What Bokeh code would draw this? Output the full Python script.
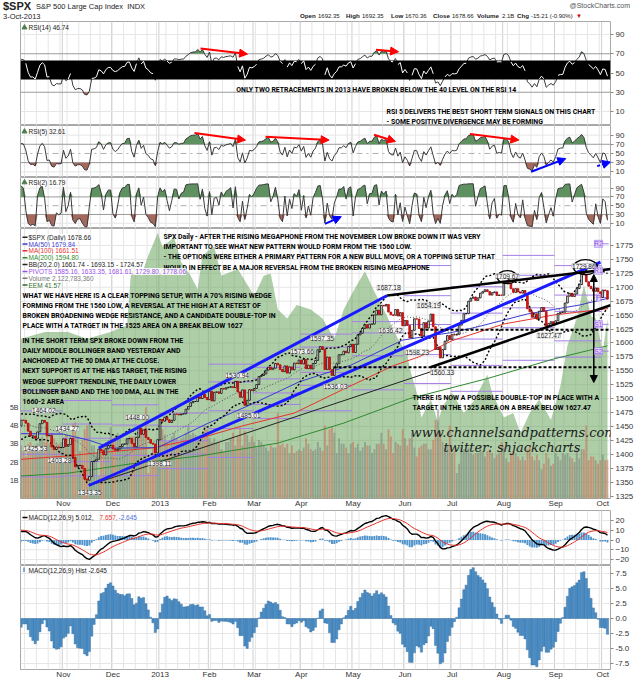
import numpy as np
import pandas as pd
from bokeh.plotting import figure
from bokeh.layouts import column
from bokeh.models import Range1d, LinearAxis, FixedTicker, Label, Arrow, NormalHead, Span, Div
from bokeh.core.properties import value
from bokeh.embed import file_html
from bokeh.resources import INLINE

# ------------------------------------------------------------------ data
# $SPX daily closes Aug-Sep 2012 + Oct 1-3 2012 (indicator warm-up only, not drawn)
warmup_closes = [1375.14, 1365.00, 1390.99, 1394.23, 1401.35, 1402.22, 1402.80, 1405.87,
                 1404.11, 1403.93, 1405.53, 1415.51, 1418.16, 1418.13, 1413.17, 1413.49,
                 1402.08, 1411.13, 1410.44, 1409.30, 1410.49, 1399.48, 1406.58,
                 1404.94, 1403.44, 1432.12, 1437.92, 1429.08, 1433.56, 1436.56, 1459.99,
                 1465.77, 1461.19, 1459.32, 1461.05, 1460.26, 1460.15, 1456.89, 1441.59,
                 1433.32, 1447.15, 1440.67, 1444.49, 1445.75, 1450.99]

closes = (
    # Oct 2012
    [1461.40, 1460.93, 1455.88, 1441.48, 1432.56, 1432.84, 1428.59, 1440.13, 1454.92, 1460.91,
     1457.34, 1433.19, 1433.82, 1413.11, 1408.75, 1412.97, 1411.94, 1412.16] +
    # Nov
    [1427.59, 1414.20, 1417.26, 1428.39, 1394.53, 1377.51, 1379.85, 1380.03, 1374.53, 1355.49,
     1353.33, 1359.88, 1386.89, 1387.81, 1391.03, 1409.15, 1406.29, 1398.94, 1409.93, 1415.95, 1416.18] +
    # Dec
    [1409.46, 1407.05, 1409.28, 1413.94, 1418.07, 1418.55, 1427.84, 1428.48, 1419.45, 1413.58,
     1430.36, 1446.79, 1435.81, 1443.69, 1430.15, 1426.66, 1419.83, 1418.10, 1402.43, 1426.19] +
    # Jan 2013
    [1462.42, 1459.37, 1466.47, 1461.89, 1457.15, 1461.02, 1472.12, 1472.05, 1470.68, 1472.34,
     1472.63, 1480.94, 1485.98, 1492.56, 1494.81, 1494.82, 1502.96, 1500.18, 1507.84, 1501.96, 1498.11] +
    # Feb
    [1513.17, 1495.71, 1511.29, 1512.12, 1509.39, 1517.93, 1517.01, 1519.43, 1520.33, 1521.38,
     1519.79, 1530.94, 1511.95, 1502.42, 1515.60, 1487.85, 1496.94, 1515.99, 1514.68] +
    # Mar
    [1518.20, 1525.20, 1539.79, 1541.46, 1544.26, 1551.18, 1556.22, 1552.48, 1554.52, 1563.23,
     1560.70, 1552.10, 1548.34, 1558.71, 1545.80, 1556.89, 1551.69, 1563.77, 1562.85, 1569.19] +
    # Apr
    [1562.17, 1570.25, 1553.69, 1559.98, 1553.28, 1563.07, 1568.61, 1587.73, 1593.37, 1588.85,
     1552.36, 1574.57, 1552.01, 1541.61, 1555.25, 1562.50, 1578.78, 1578.79, 1585.16, 1582.24,
     1593.61, 1597.57] +
    # May
    [1582.70, 1597.59, 1614.42, 1617.50, 1625.96, 1632.69, 1626.67, 1633.70, 1633.77, 1650.34,
     1658.78, 1650.47, 1667.47, 1666.29, 1669.16, 1655.35, 1650.51, 1649.60, 1660.06, 1648.36,
     1654.41, 1630.74] +
    # Jun
    [1640.42, 1631.38, 1608.90, 1622.56, 1643.38, 1642.81, 1626.13, 1612.52, 1636.36, 1626.73,
     1639.04, 1651.81, 1628.93, 1588.19, 1592.43, 1573.09, 1588.03, 1603.26, 1613.20, 1606.28] +
    # Jul
    [1614.96, 1614.08, 1615.41, 1631.89, 1640.46, 1652.32, 1652.62, 1675.02, 1680.19, 1682.50,
     1676.26, 1680.91, 1689.37, 1692.09, 1695.53, 1692.39, 1685.94, 1690.25, 1691.65, 1685.33,
     1685.96, 1685.73] +
    # Aug
    [1706.87, 1709.67, 1707.14, 1697.37, 1690.91, 1697.48, 1691.42, 1689.47, 1694.16, 1685.39,
     1661.32, 1655.83, 1646.06, 1652.35, 1642.80, 1656.96, 1663.50, 1656.78, 1630.48, 1634.96,
     1638.17, 1632.97] +
    # Sep
    [1639.77, 1653.08, 1655.08, 1655.17, 1671.71, 1683.99, 1689.13, 1683.42, 1687.99, 1697.60,
     1704.76, 1725.52, 1722.34, 1709.91, 1701.84, 1697.42, 1692.77, 1698.67, 1691.75, 1681.55] +
    # Oct 1-3 2013
    [1695.00, 1693.87, 1678.66]
)

volumes_b = (
    [2.9, 2.6, 2.3, 3.0, 3.1, 2.8, 2.9, 3.0, 3.3, 3.4, 3.1, 3.9, 3.0, 3.6, 3.3, 3.1, 3.0, 3.1] +
    [3.3, 3.5, 2.8, 2.9, 4.1, 4.2, 3.4, 2.6, 3.2, 3.8, 4.0, 4.1, 2.9, 2.9, 2.5, 1.2, 2.7, 3.0, 3.1, 3.2, 3.9] +
    [3.3, 3.4, 3.6, 3.3, 3.0, 2.8, 3.3, 3.4, 3.4, 3.4, 3.4, 3.7, 3.5, 3.6, 5.0, 1.4, 2.0, 2.8, 3.0, 3.1] +
    [4.3, 3.8, 3.5, 3.1, 3.1, 3.4, 3.6, 3.3, 3.1, 3.3, 3.4, 3.6, 4.0, 3.5, 3.6, 3.5, 3.4, 3.2, 3.4, 3.9, 3.8] +
    [3.3, 3.1, 3.3, 3.1, 3.1, 2.7, 2.6, 3.1, 3.1, 3.3, 3.6, 2.9, 3.4, 3.9, 2.9, 3.7, 3.5, 3.1, 3.4] +
    [3.1, 2.8, 3.2, 3.1, 2.9, 2.8, 2.6, 2.9, 2.8, 2.8, 4.7, 2.9, 3.0, 2.8, 3.0, 2.5, 2.9, 2.5, 2.6, 2.7] +
    [2.6, 2.8, 3.3, 3.0, 2.7, 2.6, 2.7, 3.1, 2.8, 2.6, 4.0, 2.9, 3.8, 3.9, 3.6, 2.5, 3.3, 3.0, 3.0, 2.8, 2.5, 3.0] +
    [3.1, 2.8, 3.0, 2.6, 2.8, 3.1, 2.9, 2.9, 2.5, 2.7, 3.0, 3.0, 3.6, 3.0, 2.7, 3.8, 3.4, 2.5, 3.1, 3.0, 2.9, 3.8] +
    [3.3, 2.9, 3.3, 3.6, 2.8, 2.3, 2.8, 2.9, 3.0, 3.0, 2.7, 2.7, 3.2, 4.3, 4.9, 3.7, 3.1, 2.8, 2.9, 4.0] +
    [2.5, 2.6, 1.4, 1.9, 2.8, 2.7, 2.7, 2.8, 2.5, 2.4, 2.5, 2.5, 2.9, 2.6, 2.3, 2.6, 2.7, 2.5, 2.2, 2.4, 2.5, 3.1] +
    [2.8, 2.2, 2.0, 2.5, 2.6, 2.5, 2.3, 2.1, 2.3, 2.1, 2.7, 2.9, 2.3, 2.1, 2.4, 2.1, 1.6, 1.9, 2.5, 2.2, 1.8, 1.9] +
    [2.5, 2.3, 2.1, 2.5, 2.4, 2.5, 2.3, 2.2, 2.0, 2.7, 2.2, 2.7, 2.7, 4.0, 2.1, 2.3, 2.3, 2.1, 1.9, 2.1] +
    [2.4, 2.1, 2.12]
)

holidays = ["2012-10-29", "2012-10-30", "2012-11-22", "2012-12-25", "2013-01-01", "2013-01-21",
            "2013-02-18", "2013-03-29", "2013-05-27", "2013-07-04", "2013-09-02"]
month_labels = ["Nov", "Dec", "2013", "Feb", "Mar", "Apr", "May", "Jun", "Jul", "Aug", "Sep", "Oct"]

# prior-month high / low / close (Sep 2012 .. Sep 2013) for the monthly pivots
piv_high = [1474.51, 1470.96, 1434.27, 1448.00, 1509.94, 1530.94, 1570.28, 1597.35, 1687.18, 1654.19, 1698.78, 1709.67, 1729.86]
piv_low = [1396.56, 1403.28, 1343.35, 1398.11, 1426.19, 1485.01, 1501.48, 1536.03, 1581.28, 1560.33, 1604.57, 1627.47, 1633.41]
piv_close = [1440.67, 1412.16, 1416.18, 1426.19, 1498.11, 1514.68, 1569.19, 1597.57, 1630.74, 1606.28, 1685.73, 1632.97, 1681.55]

# EEM overlay (area) at bar positions
eem_idx = [0, 10, 20, 28, 38, 45, 47, 51, 54, 58, 60, 65, 68, 72, 75, 77, 82, 85, 92, 99,
           103, 106, 109, 113, 117, 123, 128, 133, 137, 141, 146, 150, 154, 160, 164, 165, 168, 170, 174, 177,
           179, 183, 188, 192, 198, 200, 205, 209, 212, 216, 220, 225, 229, 232, 236, 239, 242, 244, 247, 249]
eem_val = [40.7, 41.0, 41.0, 40.7, 41.0, 41.3, 44.1, 43.5, 44.4, 45.4, 44.8, 45.2, 44.1, 43.5, 42.9, 44.4, 44.8, 43.5, 43.8, 42.6,
           43.5, 43.6, 42.0, 41.6, 42.2, 42.0, 41.6, 40.7, 42.0, 42.8, 43.7, 42.8, 42.0, 40.7, 40.0, 39.4, 38.3, 37.2, 38.0, 37.0,
           37.7, 38.3, 37.4, 37.9, 39.1, 38.3, 37.2, 37.4, 36.5, 37.4, 38.0, 37.1, 38.6, 40.4, 41.6, 43.1, 41.7, 41.6, 40.1, 41.6]

# moving averages
ma50_idx = [0, 18, 29, 39, 58, 79, 98, 118, 140, 162, 172, 182, 193, 204, 215, 226, 237, 249]
ma50_val = [1437, 1436, 1425, 1411, 1412, 1455, 1490, 1530, 1560, 1605, 1612, 1618, 1628, 1640, 1652, 1660, 1668, 1679.84]
ma100_idx = [0, 20, 31, 55, 76, 94, 116, 137, 158, 169, 183, 205, 226, 249]
ma100_val = [1391, 1397, 1402, 1411, 1429, 1451, 1474, 1517, 1559, 1575, 1604, 1634, 1650, 1661.51]
ma200_idx = [0, 20, 47, 76, 109, 137, 165, 198, 226, 249]
ma200_val = [1361, 1366, 1383, 1397, 1420, 1456, 1500, 1536, 1571, 1594.80]

price_labels = ["1464.02", "1434.27", "1425.53", "1403.28", "1343.35", "1448.00", "1398.11", "1530.94",
                "1485.01", "1573.66", "1597.35", "1536.03", "1687.18", "1636.42", "1598.23", "1654.19",
                "1560.33", "1709.67", "1627.47", "1729.86"]

# ------------------------------------------------------------------ layout helpers
FONT_TXT = "Roboto"
TXT_SIZE = "6.9px"
FONT_AX = "Liberation Sans"
LEG_SIZE = "6.5px"
FW = 590                      # frame spans page x 20 .. 610
X0 = -0.25
X1 = X0 + FW / 2.355


def X(px):
    return X0 + (px - 20.0) * (X1 - X0) / FW


def P(py):
    return 1775 - (py - 245.0) / 0.5567


def R14(py):
    return 90 - (py - 34.0) / 0.9625


def R5(py):
    return 90 - (py - 134.6) / 0.459


def R2(py):
    return 90 - (py - 187.9) / 0.449


def M(py):
    return -(py - 537.5) / 0.975


def Hh(py):
    return -(py - 616.0) / 6.0


days = pd.bdate_range("2012-10-04", "2013-10-03")
days = days[~days.isin(pd.to_datetime(holidays))]
N = len(days)
idx = np.arange(N)
month_start = [i for i in range(1, N) if days[i].month != days[i - 1].month]
week_start = [i for i in range(1, N) if days[i].weekday() < days[i - 1].weekday()]

c = np.array(closes)
allc = np.array(warmup_closes + closes)
W = len(warmup_closes)
opens = np.r_[warmup_closes[-1], c[:-1]]
up = c >= opens


def rsi(series, n):
    d = np.diff(series)
    g = np.clip(d, 0, None)
    l = np.clip(-d, 0, None)
    out = np.full(len(series), np.nan)
    ag = g[:n].mean()
    al = l[:n].mean()
    out[n] = 100 - 100 / (1 + ag / al) if al > 0 else 100
    for i in range(n + 1, len(series)):
        ag = (ag * (n - 1) + g[i - 1]) / n
        al = (al * (n - 1) + l[i - 1]) / n
        out[i] = 100 - 100 / (1 + ag / al) if al > 0 else 100.0
    return out


def ema(x, n):
    a = 2.0 / (n + 1)
    out = np.empty(len(x))
    out[0] = x[0]
    for i in range(1, len(x)):
        out[i] = a * x[i] + (1 - a) * out[i - 1]
    return out


rsi14 = rsi(allc, 14)[W:]
rsi5 = rsi(allc, 5)[W:]
rsi2 = rsi(allc, 2)[W:]
macd_all = ema(allc, 12) - ema(allc, 26)
sig_all = ema(macd_all, 9)
macd = macd_all[W:]
sig = sig_all[W:]
hist = macd - sig
bb_mid = np.array([allc[i - 19:i + 1].mean() for i in range(W, W + N)])
bb_sd = np.array([allc[i - 19:i + 1].std() for i in range(W, W + N)])
bb_up = bb_mid + 2 * bb_sd
bb_lo = bb_mid - 2 * bb_sd

GRID = "#e6e6e6"
GRIDM = "#cfcfcf"


def panel(fh, yr, bottom=0):
    p = figure(frame_width=FW, frame_height=fh, x_range=Range1d(X0, X1), y_range=Range1d(yr[0], yr[1]),
               x_axis_type=None, y_axis_type=None, min_border_left=20, min_border_right=30,
               min_border_top=0, min_border_bottom=bottom, toolbar_location=None, output_backend="svg")
    p.outline_line_color = "#a8a8a8"
    p.background_fill_color = "white"
    p.border_fill_color = "white"
    for w in week_start:
        p.add_layout(Span(location=w - 0.5, dimension="height", line_color=GRID, line_width=1, level="underlay"))
    for m in month_start:
        p.add_layout(Span(location=m - 0.5, dimension="height", line_color=GRIDM, line_width=1, level="underlay"))
    return p


def hgrid(p, ys, color=GRID, dash="solid"):
    for y in ys:
        p.add_layout(Span(location=y, dimension="width", line_color=color, line_width=1,
                          line_dash=dash, level="underlay"))


def right_axis(p, ticks, overrides=None):
    ax = LinearAxis(ticker=FixedTicker(ticks=ticks))
    ax.axis_line_color = None
    ax.major_tick_line_color = "#8a8a8a"
    ax.major_tick_out = 3
    ax.major_tick_in = 0
    ax.minor_tick_line_color = None
    ax.minor_tick_out = 0
    ax.minor_tick_in = 0
    ax.major_label_standoff = 2
    ax.major_label_text_font = FONT_AX
    ax.major_label_text_font_size = "8px"
    ax.major_label_text_color = "#333333"
    if overrides:
        ax.major_label_overrides = overrides
    p.add_layout(ax, "right")


def month_axis(p):
    ax = LinearAxis(ticker=FixedTicker(ticks=month_start),
                    major_label_overrides={int(m): lab for m, lab in zip(month_start, month_labels)})
    ax.axis_line_color = None
    ax.major_tick_line_color = None
    ax.major_tick_out = 0
    ax.major_tick_in = 0
    ax.minor_tick_line_color = None
    ax.minor_tick_out = 0
    ax.minor_tick_in = 0
    ax.major_label_standoff = 0
    ax.major_label_text_font = FONT_AX
    ax.major_label_text_font_size = "8px"
    ax.major_label_text_color = "#333333"
    p.add_layout(ax, "below")


def T(p, x, y, s, size=TXT_SIZE, font=FONT_TXT, style="bold", color="black", align="left"):
    p.text(x=[x], y=[y], text=[s], text_font=value(font), text_font_size=size, text_font_style=style,
           text_color=color, text_align=align, text_baseline="middle")


def legend(p, x, y, s, color, size=LEG_SIZE, bg=None, style="normal", align="left"):
    lab = Label(x=x, y=y, text=s, text_font=FONT_AX, text_font_size=size, text_color=color,
                text_font_style=style, text_baseline="middle", text_align=align)
    if bg:
        lab.background_fill_color = bg
        lab.background_fill_alpha = 0.85
    p.add_layout(lab)


def arrow(p, x0, y0, x1, y1, color, dash="solid", both=False, width=2, size=8):
    a = Arrow(x_start=x0, y_start=y0, x_end=x1, y_end=y1, line_color=color, line_width=width, line_dash=dash,
              end=NormalHead(size=size, fill_color=color, line_color=color),
              start=NormalHead(size=size, fill_color=color, line_color=color) if both else None)
    p.add_layout(a)


GREEN_FILL = "#5f9160"
RED_FILL = "#a4685c"

# ------------------------------------------------------------------ header (HTML strip, page y 0..21)
hdr_items = [("Open", 300, True), ("1692.35", 318, False), ("High", 346, True), ("1692.35", 362, False),
             ("Low", 391, True), ("1670.36", 405, False), ("Close", 433, True), ("1678.66", 452, False),
             ("Volume", 477, True), ("2.1B", 502, False), ("Chg", 517, True), ("-15.21 (-0.90%)", 531, False)]
spans = ['<span style="position:absolute;left:3px;top:1px;font-size:11px;font-weight:bold;">$SPX</span>',
         '<span style="position:absolute;left:36px;top:3px;font-size:7.5px;">S&amp;P 500 Large Cap Index &nbsp;INDX</span>',
         '<span style="position:absolute;right:10px;top:2px;font-size:7px;color:#555;">@StockCharts.com</span>',
         '<span style="position:absolute;left:3px;top:13px;font-size:7.5px;">3-Oct-2013</span>']
for s, x, b in hdr_items:
    spans.append('<span style="position:absolute;left:%dpx;top:13px;font-size:%s;%s">%s</span>'
                 % (x, "6.2px" if b else "6px", "font-weight:bold;" if b else "", s))
spans.append('<span style="position:absolute;left:576px;top:13px;font-size:6px;color:#cc0000;">&#9660;</span>')
hdr = Div(text='<div style="position:relative;width:640px;height:21px;overflow:hidden;line-height:1;'
               'font-family:\'Liberation Sans\',Arial,sans-serif;color:#222;white-space:nowrap;">'
               + "".join(spans) + "</div>",
          width=640, height=21, margin=(0, 0, 0, 0))

# ------------------------------------------------------------------ RSI panels


def rsi_panel(fh, yr, vals):
    p = panel(fh, yr)
    hgrid(p, [10, 90])
    hgrid(p, [30, 70], color="#9a9a9a")
    hgrid(p, [50], color="#b0b0b0", dash="dashdot")
    p.varea(x=idx, y1=np.full(N, 70.0), y2=np.maximum(vals, 70), fill_color=GREEN_FILL)
    p.varea(x=idx, y1=np.minimum(vals, 30), y2=np.full(N, 30.0), fill_color=RED_FILL)
    p.line(idx, vals, line_color="#3a3a3a", line_width=1)
    right_axis(p, [10, 30, 50, 70, 90])
    return p


p14 = rsi_panel(104, (R14(125), R14(21)), rsi14)
band_lo, band_hi = R14(79), R14(60)
p14.quad(left=[X0], right=[X1], bottom=[band_lo], top=[band_hi], fill_color="black", line_color=None)
in_band = np.where((rsi14 >= band_lo) & (rsi14 <= band_hi), rsi14, np.nan)
p14.line(idx, in_band, line_color="white", line_width=1)
p14.scatter([X(24)], [R14(27)], marker="triangle", size=5, fill_color="#4d7f4d", line_color="#4d7f4d")
legend(p14, X(28), R14(27), "RSI(14) 46.74", "#222222")
T(p14, X(376), R14(89), "ONLY TWO RETRACEMENTS IN 2013 HAVE BROKEN BELOW THE 40 LEVEL ON THE RSI 14", align="center")
T(p14, X(386), R14(111.5), "RSI 5 DELIVERS THE BEST SHORT TERM SIGNALS ON THIS CHART")
T(p14, X(386), R14(121), "- SOME POSITIVE DIVERGENCE MAY BE FORMING")
arrow(p14, X(200), R14(48), X(247), R14(53.6), "red")
arrow(p14, X(375.5), R14(49.2), X(398), R14(51.3), "red")

p5 = rsi_panel(52, (R5(177), R5(125)), rsi5)
p5.scatter([X(24)], [R5(131)], marker="triangle", size=5, fill_color="#4d7f4d", line_color="#4d7f4d")
legend(p5, X(28), R5(131), "RSI(5) 32.61", "#222222")
arrow(p5, X(194), R5(132.6), X(245), R5(139.6), "red")
arrow(p5, X(265), R5(136.3), X(328.6), R5(139.6), "red")
arrow(p5, X(373.5), R5(134.2), X(395), R5(141), "red")
arrow(p5, X(469.4), R5(133.6), X(518.4), R5(139.6), "red")
arrow(p5, X(530.6), R5(171.3), X(565.3), R5(158.1), "blue")
arrow(p5, X(596.7), R5(165.6), X(610), R5(161.5), "blue", dash="3 2")

p2 = rsi_panel(51, (-2.0, R2(177)), rsi2)
p2.scatter([X(24)], [R2(182)], marker="triangle", size=5, fill_color="#4d7f4d", line_color="#4d7f4d")
legend(p2, X(28), R2(182), "RSI(2) 16.79", "#222222")
arrow(p2, X(324.5), R2(224.5), X(340.8), R2(217.1), "blue")

# ------------------------------------------------------------------ main price panel
pm = panel(270, (P(498), P(228)), bottom=10)
pm.extra_y_ranges = {"vol": Range1d(0, 14.8), "eem": Range1d(33.6, 45.6)}
hgrid(pm, list(range(1325, 1800, 25)))
pm.varea(x=eem_idx, y1=np.full(len(eem_idx), 33.6), y2=eem_val, y_range_name="eem",
         fill_color="#5e9e52", fill_alpha=0.5)
vcol = np.where(up, "#6e6e6e", "#d9503c")
pm.vbar(x=idx, top=volumes_b, bottom=0, width=0.78, y_range_name="vol", fill_color=vcol,
        fill_alpha=0.45, line_color=None)

# monthly pivots
starts = [0] + month_start
ends = month_start + [N]
ph_, pl_, pc_ = np.array(piv_high), np.array(piv_low), np.array(piv_close)
pp = (ph_ + pl_ + pc_) / 3
levels = [pp - (ph_ - pl_), 2 * pp - ph_, pp, 2 * pp - pl_, pp + (ph_ - pl_)]
x0s, x1s, ys = [], [], []
for m in range(len(starts)):
    for lv in levels:
        x0s.append(starts[m] - 0.5)
        x1s.append(ends[m] - 0.5)
        ys.append(lv[m])
pm.segment(x0=x0s, y0=ys, x1=x1s, y1=ys, line_color="#a47fe8", line_width=1)

pm.line(ma200_idx, ma200_val, line_color="#2f8a2f", line_width=1)
pm.line(ma100_idx, ma100_val, line_color="#e8312b", line_width=1)
pm.line(ma50_idx, ma50_val, line_color="#3b3bd1", line_width=1)
pm.line(idx, bb_up, line_color="black", line_width=1.4, line_dash="2 2")
pm.line(idx, bb_lo, line_color="black", line_width=1.4, line_dash="2 2")
pm.line(idx, bb_mid, line_color="#555555", line_width=1, line_dash="1 2")

# thin trendline Nov low -> Jun low
pm.line([X(88.3), X(437)], [P(485), P(369)], line_color="#222222", line_width=1)

# candles
body_top = np.maximum(opens, c)
body_bot = np.minimum(opens, c)
pm.vbar(x=idx[up], top=body_top[up], bottom=body_bot[up], width=0.7, fill_color="white",
        line_color="black", line_width=0.8)
pm.vbar(x=idx[~up], top=body_top[~up], bottom=body_bot[~up], width=0.7, fill_color="#e21b1b",
        line_color="#b00000", line_width=0.8)

# hand-drawn trendlines
pm.line([X(98.3), X(386.7)], [P(447.7), P(295)], line_color="#1a1aff", line_width=3)
pm.line([X(88.3), X(600)], [P(485), P(261.7)], line_color="#1a1aff", line_width=3)
pm.line([X(386.7), X(610)], [P(295), P(268.6)], line_color="black", line_width=2.5)
pm.line([X(430), X(610)], [P(366.7), P(304.7)], line_color="black", line_width=2.5)
pm.line([X(420), X(610)], [P(329.3), P(329.3)], line_color="black", line_width=2, line_dash="3 2")
pm.line([X(333), X(610)], [P(366.7), P(366.7)], line_color="black", line_width=2, line_dash="3 2")
pm.ellipse(x=[X(506.7), X(585)], y=[P(276.7), P(266.7)], width=[20 * (X1 - X0) / FW, 24 * (X1 - X0) / FW],
           height=[13 / 0.5567, 15 / 0.5567], fill_color=None, line_color="black", line_width=1.3)
arrow(pm, X(593.3), P(274), X(593.3), P(382), "black", both=True, width=1.5, size=7)

# price labels
lab_xy = [(43.3, 410), (66.7, 428.3), (35, 448.3), (59, 460), (89.3, 492.3), (136.7, 416.7), (159.3, 463.3),
          (236.7, 375), (248.3, 415), (301.7, 351), (321.7, 337.7), (335, 386), (388.3, 287.3), (390, 330),
          (416.7, 351.7), (428.3, 305), (441.7, 371.7), (506.7, 275.5), (548.3, 335), (583.3, 265.5)]
for (lx, ly), s in zip(lab_xy, price_labels):
    pm.add_layout(Label(x=X(lx), y=P(ly), text=s, text_font=FONT_AX, text_font_size="6.5px",
                        text_color="#222222", text_align="center", text_baseline="middle",
                        background_fill_color="white", background_fill_alpha=0.9,
                        border_line_color="#9a9a9a", border_line_width=0.5))

# pivot tags
for tag, lv in zip(["S2", "S1", "P", "R1", "R2"], levels):
    pm.add_layout(Label(x=X(598), y=lv[-1], text=tag, text_font=FONT_AX, text_font_size="6.5px",
                        text_color="#8a4fe0", text_align="center", text_baseline="middle",
                        background_fill_color="#e4d6fa", border_line_color="#a47fe8", border_line_width=0.7))

# annotation texts
blk1 = ["SPX Daily - AFTER THE RISING MEGAPHONE FROM THE NOVEMBER LOW BROKE DOWN IT WAS VERY",
        "IMPORTANT TO SEE WHAT NEW PATTERN WOULD FORM FROM THE 1560 LOW.",
        "- THE OPTIONS WERE EITHER A PRIMARY PATTERN FOR A NEW BULL MOVE, OR A TOPPING SETUP THAT",
        "WOULD IN EFFECT BE A MAJOR REVERSAL FROM THE BROKEN RISING MEGAPHONE"]
for s, y in zip(blk1, [236, 246.3, 256.7, 267]):
    T(pm, X(163), P(y), s)
blk2 = ["WHAT WE HAVE HERE IS A CLEAR TOPPING SETUP, WITH A 70% RISING WEDGE",
        "FORMING FROM THE 1560 LOW, A REVERSAL AT THE HIGH AT A RETEST OF",
        "BROKEN BROADENING WEDGE RESISTANCE, AND A CANDIDATE DOUBLE-TOP IN",
        "PLACE WITH A TATRGET IN THE 1525 AREA ON A BREAK BELOW 1627"]
for s, y in zip(blk2, [295.7, 305.7, 315.7, 325.7]):
    T(pm, X(22), P(y), s)
blk3 = ["IN THE SHORT TERM SPX BROKE DOWN FROM THE",
        "DAILY MIDDLE BOLLINGER BAND YESTERDAY AND",
        "ANCHORED AT THE 50 DMA AT THE CLOSE.",
        "NEXT SUPPORT IS AT THE H&S TARGET, THE RISING",
        "WEDGE SUPPORT TRENDLINE, THE DAILY LOWER",
        "BOLLINGER BAND AND THE 100 DMA, ALL IN THE",
        "1660-2 AREA"]
for s, y in zip(blk3, [340, 350.3, 360.7, 370.7, 381, 391, 401.7]):
    T(pm, X(22), P(y), s)
blk4 = ["THERE IS NOW A POSSIBLE DOUBLE-TOP IN PLACE WITH A",
        "TARGET IN THE 1525 AREA ON A BREAK BELOW 1627.47"]
for s, y in zip(blk4, [397.3, 407.3]):
    T(pm, X(412), P(y), s)
T(pm, X(410), P(431.7), "www.channelsandpatterns.com", size="13px", font="DejaVu Serif", style="italic",
  color="#1a1a1a")
T(pm, X(443), P(446.7), "twitter: shjackcharts", size="13px", font="DejaVu Serif", style="italic",
  color="#1a1a1a")

# legend
leg = [("$SPX (Daily) 1678.66", "#222222", 236.7), ("MA(50) 1679.84", "#3b3bd1", 243.5),
       ("MA(100) 1661.51", "#e8312b", 250.3), ("MA(200) 1594.80", "#2f8a2f", 257.2),
       ("BB(20,2.0) 1661.74 - 1693.15 - 1724.57", "#222222", 264.0),
       ("PIVOTS 1585.16, 1633.35, 1681.61, 1729.80, 1778.06", "#9a4fe8", 270.9),
       ("Volume 2,122,783,360", "#777777", 277.7), ("EEM 41.57", "#2e6b2e", 284.6)]
for s, col, y in leg:
    pm.segment(x0=[X(22)], y0=[P(y)], x1=[X(27)], y1=[P(y)], line_color=col, line_width=1.5)
    legend(pm, X(28), P(y), s, col, bg="white")

right_axis(pm, list(range(1325, 1800, 25)))
vax = LinearAxis(y_range_name="vol", ticker=FixedTicker(ticks=[1, 2, 3, 4, 5]),
                 major_label_overrides={1: "1B", 2: "2B", 3: "3B", 4: "4B", 5: "5B"})
vax.axis_line_color = None
vax.major_tick_line_color = None
vax.major_tick_out = 0
vax.major_tick_in = 0
vax.minor_tick_line_color = None
vax.minor_tick_out = 0
vax.minor_tick_in = 0
vax.major_label_standoff = 2
vax.major_label_text_font = FONT_AX
vax.major_label_text_font_size = "7px"
vax.major_label_text_color = "#333333"
pm.add_layout(vax, "left")
month_axis(pm)

# ------------------------------------------------------------------ MACD
pc = panel(55, (M(563), M(508)))
hgrid(pc, [-20, -10, 0, 10, 20])
pc.vbar(x=idx, top=hist, bottom=0, width=0.8, fill_color="#4f93cc", line_color=None)
pc.line(idx, macd, line_color="black", line_width=1.4)
pc.line(idx, sig, line_color="#e8312b", line_width=1)
pc.segment(x0=[X(22)], y0=[M(515)], x1=[X(27)], y1=[M(515)], line_color="black", line_width=1.5)
legend(pc, X(28), M(515), "MACD(12,26,9) 5.012,", "#222222")
legend(pc, X(99), M(515), "7.657,", "#e8312b")
legend(pc, X(118), M(515), "-2.645", "#4f6fd8")
right_axis(pc, [-20, -10, 0, 10, 20])

# ------------------------------------------------------------------ MACD histogram
phs = panel(104, (Hh(667), Hh(563)), bottom=12)
hgrid(phs, [-7.5, -5, -2.5, 0, 2.5, 5, 7.5])
phs.vbar(x=idx, top=hist, bottom=0, width=0.95, fill_color="#4a8fca", line_color="#2f6796", line_width=0.4)
phs.vbar(x=[X(23.5)], top=[Hh(565)], bottom=[Hh(569.5)], width=0.6, fill_color="#4a8fca", line_color=None)
legend(phs, X(28), Hh(567.5), "MACD(12,26,9) Hist -2.645", "#222222")
right_axis(phs, [-7.5, -5, -2.5, 0, 2.5, 5, 7.5],
           {-7.5: "-7.5", -5: "-5.0", -2.5: "-2.5", 0: "0.0", 2.5: "2.5", 5: "5.0", 7.5: "7.5"})
month_axis(phs)

layout = column(hdr, p14, p5, p2, pm, pc, phs, spacing=0)
open("out.html", "w").write(file_html(layout, INLINE))
